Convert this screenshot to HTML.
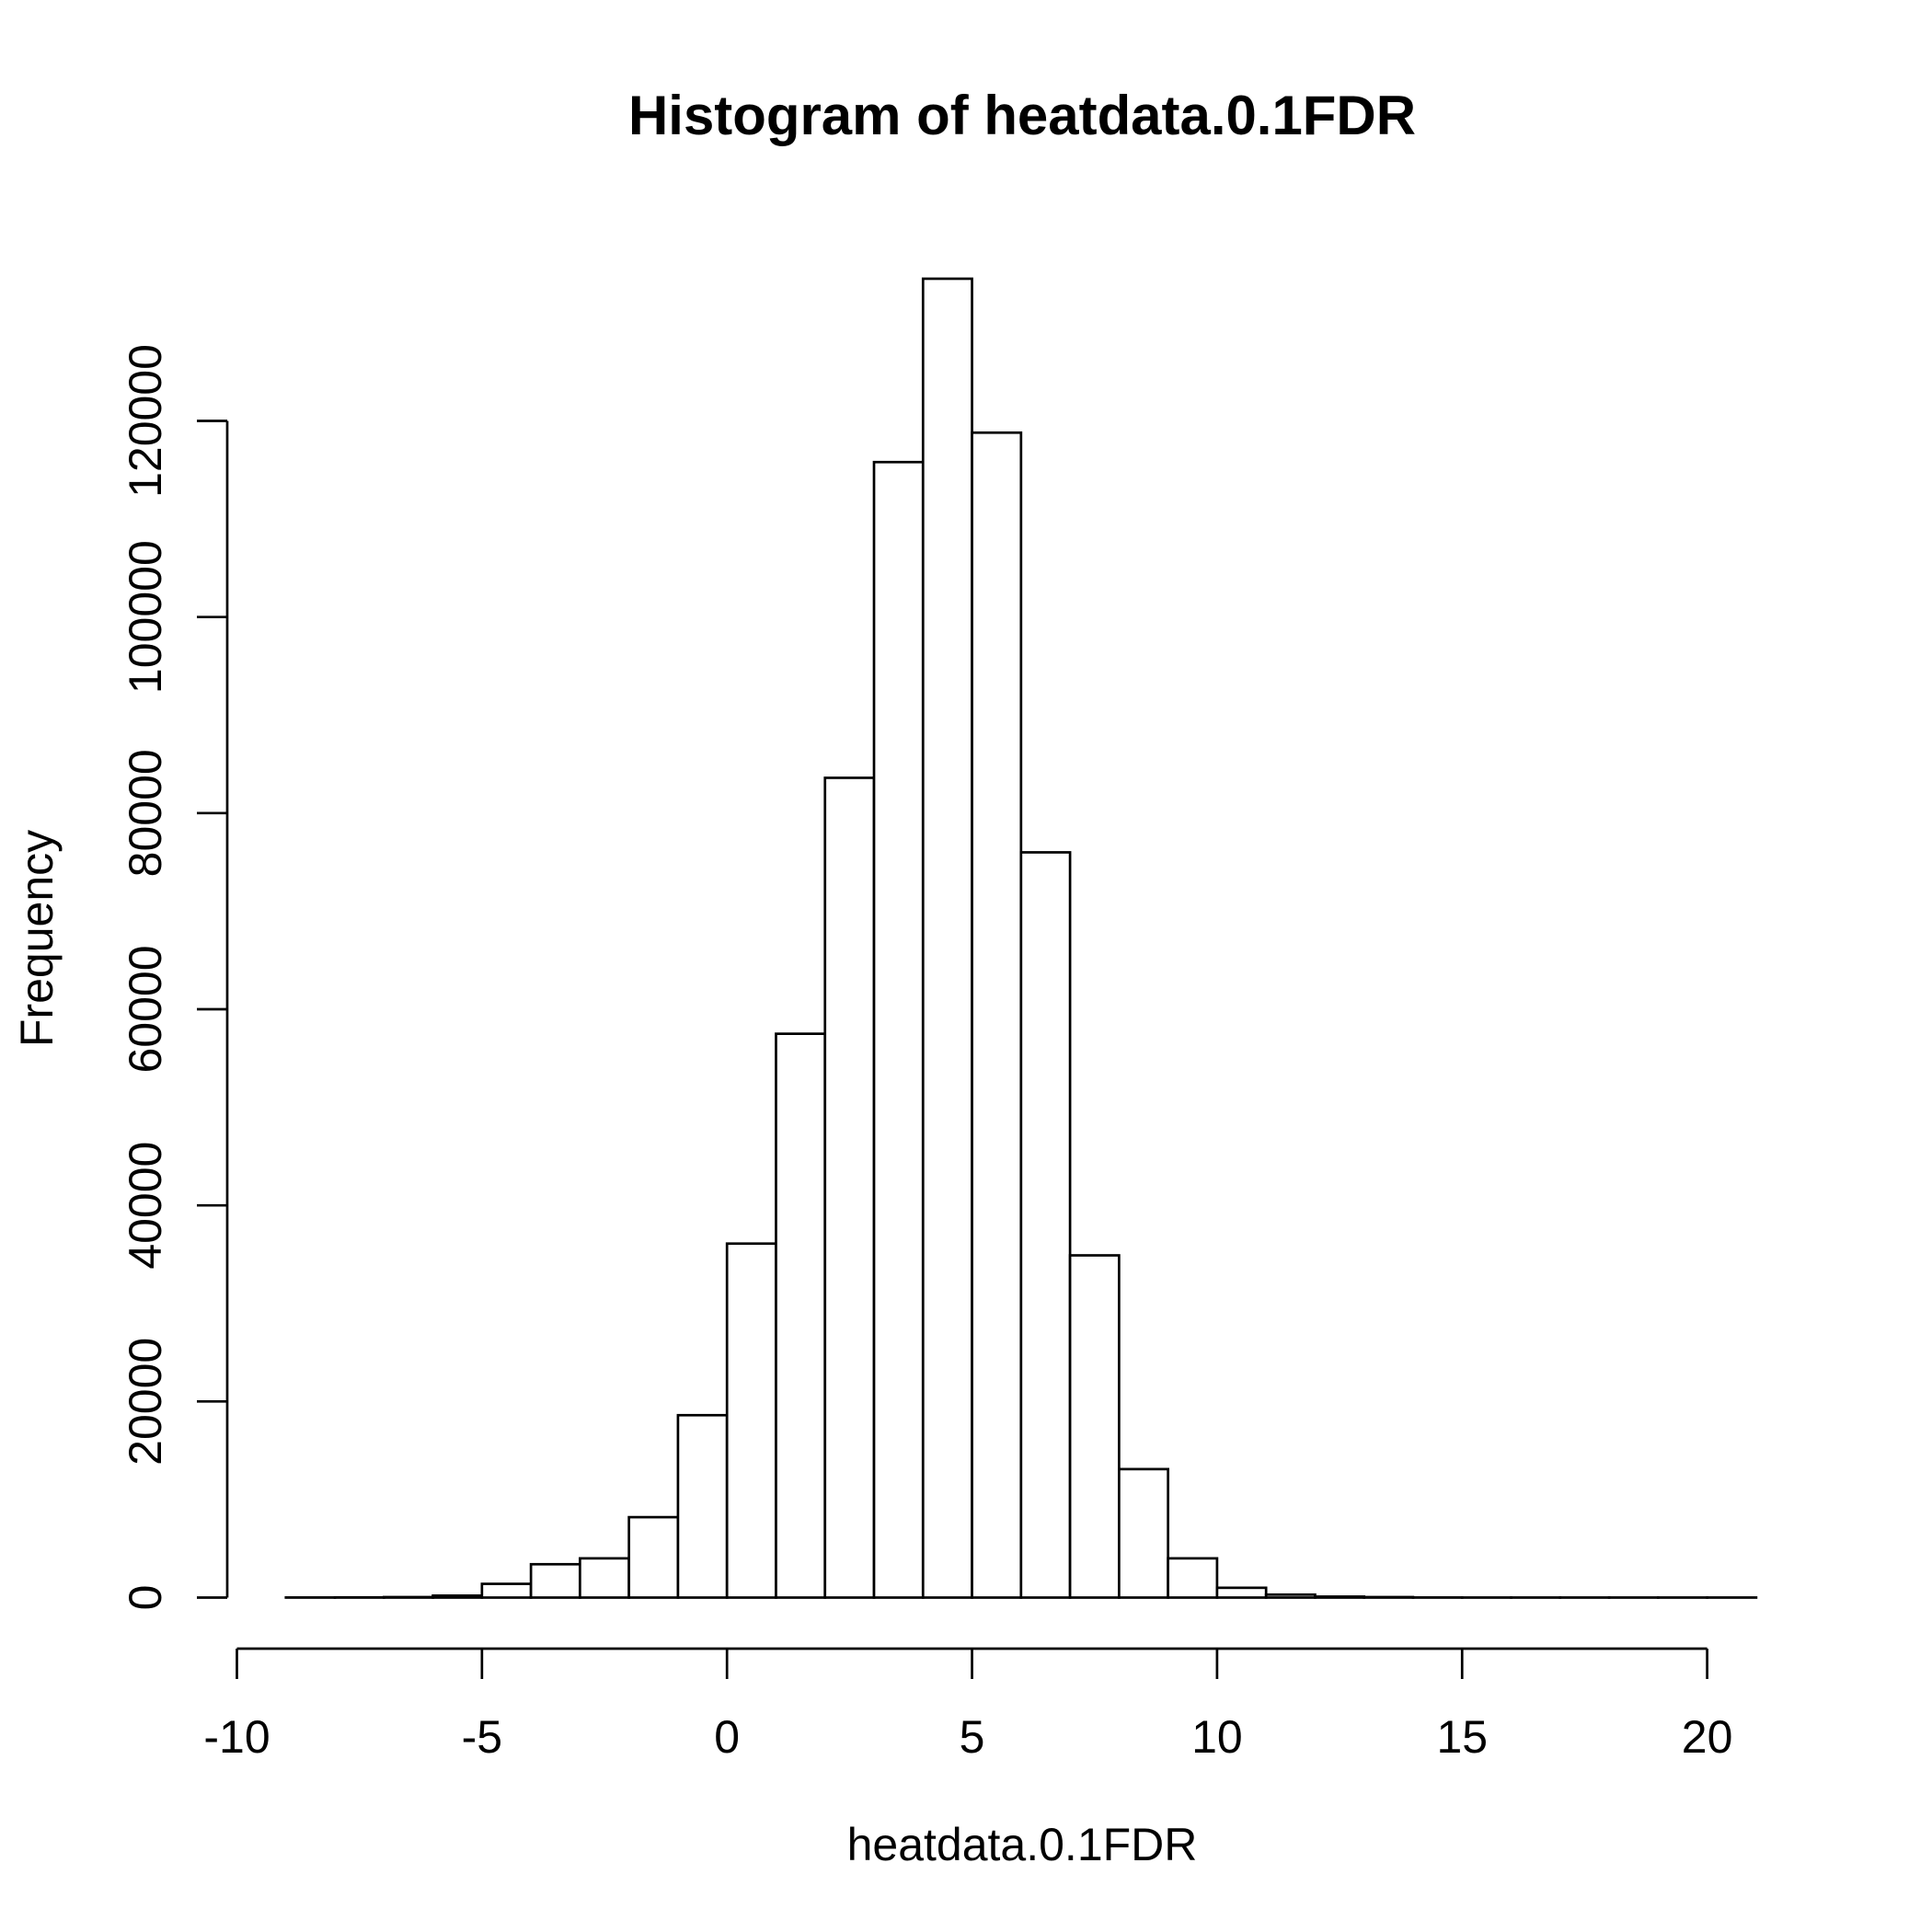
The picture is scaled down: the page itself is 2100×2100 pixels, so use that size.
<!DOCTYPE html>
<html><head><meta charset="utf-8"><style>
html,body{margin:0;padding:0;background:#fff;}
svg{display:block;}
text{font-family:"Liberation Sans",Arial,sans-serif;fill:#000;}
</style></head><body>
<svg id="chart" width="2100" height="2100" viewBox="0 0 2100 2100" xmlns="http://www.w3.org/2000/svg">
<text x="1111" y="146" text-anchor="middle" font-size="60" font-weight="bold" textLength="856" lengthAdjust="spacingAndGlyphs">Histogram of heatdata.0.1FDR</text>
<text x="1111" y="2022" text-anchor="middle" font-size="50">heatdata.0.1FDR</text>
<text transform="translate(57,1020) rotate(-90)" text-anchor="middle" font-size="50">Frequency</text>
<g id="bars"></g>
<g id="xaxis"></g>
<g id="yaxis"></g>
</svg>
<script>
const binStarts = [-9,-8,-7,-6,-5,-4,-3,-2,-1,0,1,2,3,4,5,6,7,8,9,10,11,12,13,14,15,16,17,18,19,20];
const counts = [10,20,50,200,1400,3400,4000,8200,18600,36100,57500,83600,115800,134500,118800,76000,34900,13100,4000,1000,300,100,50,10,5,5,5,5,5,5];
const xTicks = [-10,-5,0,5,10,15,20];
const yTicks = [0,20000,40000,60000,80000,100000,120000];

const NS = "http://www.w3.org/2000/svg";
function xs(v){ return 257.5 + (v + 10) * 53.27; }
function ys(v){ return 1736.5 - v * (1279 / 120000); }
function mk(tag, attrs, parent){
  const e = document.createElementNS(NS, tag);
  for (const k in attrs) e.setAttribute(k, attrs[k]);
  parent.appendChild(e);
  return e;
}
const bars = document.getElementById('bars');
binStarts.forEach((b, i) => {
  const r = mk('rect', {x: xs(b), y: ys(counts[i]), width: xs(b + 1) - xs(b), height: ys(0) - ys(counts[i]), fill: '#fff', stroke: '#000', 'stroke-width': 2.7}, bars);
  
  
});
const xa = document.getElementById('xaxis');
const xl = mk('line', {x1: xs(xTicks[0]), x2: xs(xTicks[xTicks.length-1]), y1: 1792, y2: 1792, stroke: '#000', 'stroke-width': 2.7}, xa);


xTicks.forEach(t => {
  const tk = mk('line', {x1: xs(t), x2: xs(t), y1: 1792, y2: 1825, stroke: '#000', 'stroke-width': 2.7}, xa);
  
  
  const tx = mk('text', {x: xs(t), y: 1905, 'text-anchor': 'middle', 'font-size': 50}, xa);
  tx.textContent = String(t);
  
  
});
const ya = document.getElementById('yaxis');
const yl = mk('line', {x1: 247, x2: 247, y1: ys(yTicks[0]), y2: ys(yTicks[yTicks.length-1]), stroke: '#000', 'stroke-width': 2.7}, ya);


yTicks.forEach(t => {
  const tk = mk('line', {x1: 214, x2: 247, y1: ys(t), y2: ys(t), stroke: '#000', 'stroke-width': 2.7}, ya);
  
  
  const tx = mk('text', {transform: 'translate(175,' + ys(t) + ') rotate(-90)', 'text-anchor': 'middle', 'font-size': 50}, ya);
  tx.textContent = String(t);
  
  
});
</script>
</body></html>
